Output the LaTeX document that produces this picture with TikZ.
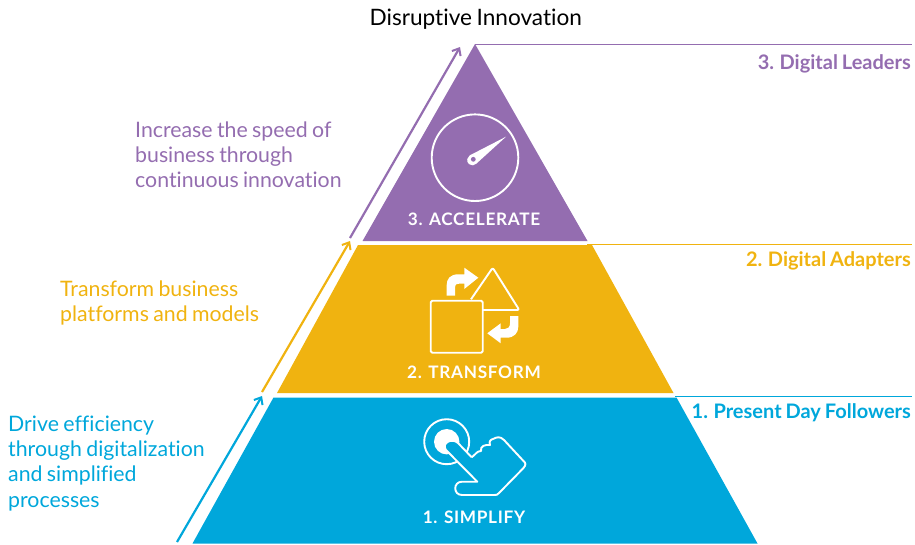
\documentclass[tikz,border=0pt]{standalone}
\usepackage{fontspec}
\setmainfont[Ligatures=NoCommon, WordSpace=0.8]{Lato}
\newfontfamily\capsfont[LetterSpace=4]{Lato}
\usetikzlibrary{arrows.meta}
\definecolor{simplify}{RGB}{0, 167, 219}
\definecolor{transform}{RGB}{240, 179, 16}
\definecolor{accelerate}{RGB}{148, 109, 176}
\tikzset{
    goal/.style={anchor=north west, align=left, inner sep=0pt, font=\fontsize{21.3}{25.3}\selectfont},
    level/.style={anchor=east, inner sep=0pt, font=\fontsize{20}{22}\selectfont\bfseries},
    stage/.style={inner sep=0pt, text=white, font=\fontsize{17.2}{20}\selectfont\capsfont\bfseries},
    climb/.style={line width=2.2pt, -{Straight Barb[length=6pt,width=10pt,line width=2pt]}},
    icon/.style={draw=white, line width=1.9pt, line join=round}
}
\begin{document}
\begin{tikzpicture}[x=1pt, y=-1pt]
            \useasboundingbox (0,0) rectangle (915,544);
            % Pyramid
            \fill[color=accelerate] (475.0, 44.0) -- (587.5,241.0) -- (362.5,241.0) -- cycle;
            \fill[color=transform]  (358.0,245.0) -- (592.0,245.0) -- (673.5,393.0) -- (277.0,393.0) -- cycle;
            \fill[color=simplify]   (273.5,397.5) -- (676.5,397.5) -- (757.5,543.5) -- (192.5,543.5) -- cycle;
            % Free ends of the arrows and level lines
            \coordinate (blue start)   at (177.0,542.0);
            \coordinate (blue end)     at (262.0,396.0);
            \coordinate (gold start)   at (262.0,392.0);
            \coordinate (gold end)     at (350.0,241.0);
            \coordinate (purple start) at (350.0,238.0);
            \coordinate (purple end)   at (460.0, 47.0);
            \coordinate (top left)     at (475.0, 44.5);
            \coordinate (top right)    at (912.0, 44.5);
            \coordinate (mid left)     at (587.0,244.5);
            \coordinate (mid right)    at (912.0,244.5);
            \coordinate (low left)     at (675.0,396.5);
            \coordinate (low right)    at (912.0,396.5);
            % Arrows
            \draw[color=simplify,   climb] (blue start)   -- (blue end);
            \draw[color=transform,  climb] (gold start)   -- (gold end);
            \draw[color=accelerate, climb] (purple start) -- (purple end);
            % Level lines
            \draw[color=accelerate, line width=1.2pt] (top left) -- (top right);
            \draw[color=transform,  line width=1.2pt] (mid left) -- (mid right);
            \draw[color=simplify,   line width=1.2pt] (low left) -- (low right);
            % Texts
            \node[anchor=base, inner sep=0pt, font=\fontsize{22.6}{24}\selectfont] (title) at (475.8,25.0) {Disruptive Innovation};
            \node[goal, text=accelerate] (goal three) at (135.0,121.5) {Increase the speed of\\business through\\continuous innovation};
            \node[goal, text=transform]  (goal two)   at ( 60.0,280.5) {Transform business\\platforms and models};
            \node[goal, text=simplify]   (goal one)   at (  8.0,415.5) {Drive efficiency\\through digitalization\\and simplified\\processes};
            \node[level, text=accelerate] (level three) at (911.0, 63.5) {3. Digital Leaders};
            \node[level, text=transform]  (level two)   at (911.0,260.5) {2. Digital Adapters};
            \node[level, text=simplify]   (level one)   at (911.0,412.5) {1. Present Day Followers};
            \node[stage] (stage three) at (474.0,219.5) {3. ACCELERATE};
            \node[stage] (stage two)   at (474.0,372.5) {2. TRANSFORM};
            \node[stage] (stage one)   at (474.0,517.5) {1. SIMPLIFY};
            % Gauge
            \draw[icon] (475.0,157.7) circle (43.3);
            \fill[color=white] (469.5,155.5) -- (506.0,136.7) -- (476.5,163.5) arc (40:235:5.3) -- cycle;
            \fill[color=accelerate] (473.3,159.3) circle (2.4);
            % Square and triangle
            \draw[icon, rounded corners=1.5pt] (430.7,300.7) rectangle (482.7,352.7);
            \draw[icon, rounded corners=2pt] (471.0,299.3) -- (492.7,267.7) -- (519.3,310.0) -- (482.7,310.0);
            \fill[color=white] (446.7,295.7) -- (455.0,295.7) -- (455.0,288.0) .. controls (455.0,284.0) and (457.0,283.5) .. (460.0,283.5) -- (464.3,283.5) -- (464.3,289.0) -- (478.3,277.7) -- (464.3,267.7) -- (464.3,274.3) -- (458.3,274.3) .. controls (450.0,274.3) and (446.7,279.0) .. (446.7,285.0) -- cycle;
            \fill[color=white] (518.3,316.0) -- (510.0,316.0) -- (510.0,323.3) .. controls (510.0,327.0) and (508.0,329.0) .. (505.0,329.0) -- (500.7,329.0) -- (500.7,323.3) -- (487.3,333.3) -- (500.7,343.3) -- (500.7,337.7) -- (506.7,337.7) .. controls (514.0,337.7) and (518.3,333.0) .. (518.3,326.7) -- cycle;
            % Pointing hand
            \draw[icon] (446.7,441.7) circle (22.5);
            \fill[color=white] (446.7,441.7) circle (12.7);
            \draw[icon, fill=simplify] (471.7,457.3) -- (458.0,443.0) .. controls (452.0,437.5) and (441.0,443.0) .. (446.0,450.0)
                -- (477.3,481.7) -- (462.0,481.7) .. controls (453.0,481.7) and (453.0,495.0) .. (462.0,495.0)
                -- (494.0,495.0) .. controls (497.0,495.0) and (497.0,495.0) .. (499.0,493.0) -- (523.5,468.0)
                .. controls (526.0,465.0) and (526.0,463.0) .. (523.5,461.0) -- (504.0,440.0)
                .. controls (500.0,436.0) and (497.0,437.0) .. (493.0,439.0)
                .. controls (490.0,439.5) and (489.0,442.0) .. (490.0,445.0)
                .. controls (485.0,444.5) and (480.0,446.0) .. (481.0,451.0)
                .. controls (477.0,451.0) and (476.0,454.0) .. (471.7,457.3);
        \end{tikzpicture}
\end{document}
